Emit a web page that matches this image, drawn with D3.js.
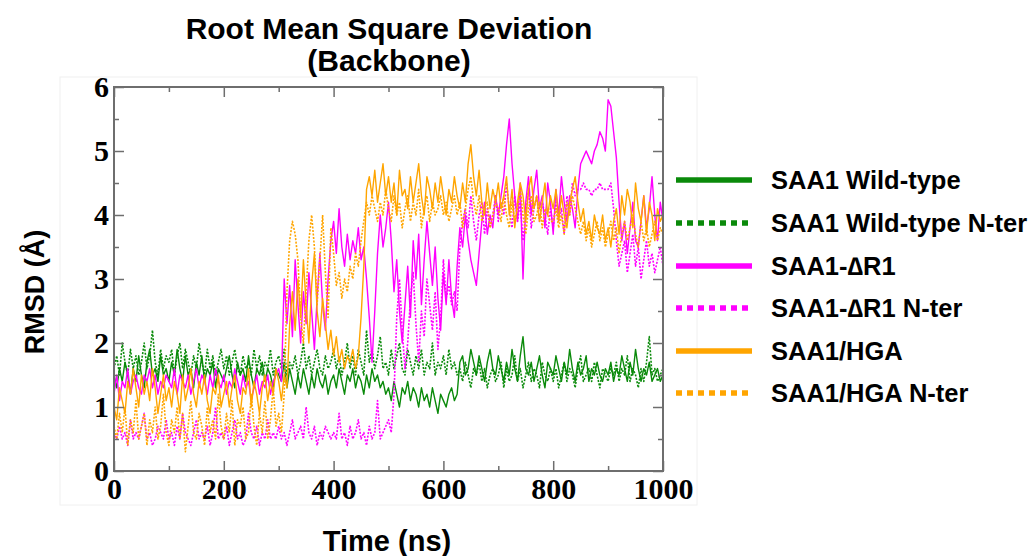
<!DOCTYPE html>
<html>
<head>
<meta charset="utf-8">
<script src="https://cdn.jsdelivr.net/npm/d3@7"></script>
<style>
  body { margin: 0; background: #fff; }
  svg { display: block; }
</style>
</head>
<body>
<div id="chart"></div>
<script>
// valeurs, un point toutes les 5 ns (0 -> 1000)
const timeStep = 5;

const wildType = [
  1.5,1.3,1.6,1.4,1.7,1.5,1.2,1.6,1.4,1.8,1.5,1.3,1.7,1.9,1.5,1.6,1.4,1.8,1.5,1.6,
  1.4,1.7,1.5,1.9,1.6,1.4,1.8,1.5,1.6,1.3,1.7,1.5,1.8,1.4,1.6,1.5,1.7,1.3,1.6,1.5,
  1.4,1.6,1.8,1.5,1.3,1.7,1.5,1.6,1.4,1.8,1.5,1.3,1.6,1.5,1.7,1.4,1.6,1.5,1.3,1.6,
  1.5,1.4,1.7,1.3,1.6,1.4,1.2,1.5,1.3,1.6,1.4,1.2,1.5,1.3,1.6,1.4,1.3,1.5,1.2,1.4,
  1.5,1.3,1.6,1.4,1.2,1.5,1.4,1.6,1.3,1.5,1.4,1.2,1.5,1.3,1.6,1.4,1.5,1.3,1.4,1.2,
  1.3,1.1,1.4,1.2,1.0,1.3,1.2,1.4,1.1,1.3,1.2,1.0,1.3,1.1,1.2,1.0,1.3,1.1,0.9,1.2,
  1.1,1.0,1.2,1.3,1.1,1.2,1.7,1.8,1.5,1.6,1.9,1.7,1.5,1.8,1.6,1.4,1.7,1.9,1.6,1.5,
  1.8,1.6,1.4,1.7,1.5,1.9,1.6,1.4,1.8,2.1,1.6,1.5,1.7,1.4,1.6,1.8,1.5,1.3,1.7,1.6,
  1.5,1.8,1.6,1.4,1.7,1.5,1.9,1.6,1.4,1.7,1.5,1.6,1.8,1.4,1.6,1.5,1.7,1.5,1.4,1.6,
  1.5,1.7,1.4,1.6,1.5,1.8,1.6,1.4,1.7,1.5,1.9,1.6,1.4,1.6,1.5,1.7,1.4,1.5,1.6,1.4,1.5
];

const wildTypeNter = [
  1.6,1.8,1.5,2.0,1.7,1.5,1.9,1.6,1.8,1.5,1.7,2.0,1.6,1.8,2.2,1.7,1.5,1.9,1.6,1.8,
  1.7,1.9,1.5,1.8,2.0,1.6,1.9,1.7,1.5,1.8,1.6,2.0,1.7,1.5,1.9,1.6,1.8,1.5,1.7,1.9,
  1.6,1.8,1.5,1.7,1.9,1.6,1.5,1.8,1.6,1.7,1.5,1.9,1.6,1.8,1.5,1.7,1.6,1.9,1.5,1.7,
  1.8,1.6,1.9,1.5,1.7,1.6,1.8,1.5,1.7,2.0,1.6,1.8,1.5,1.7,1.9,1.6,1.5,1.8,1.6,1.7,
  1.9,1.6,1.8,1.5,1.7,2.0,1.6,1.8,1.5,1.9,1.7,1.5,2.2,1.7,1.9,1.6,1.8,2.1,1.6,1.7,
  1.5,1.9,1.6,1.8,2.0,1.6,1.5,1.9,1.7,1.5,1.8,1.6,1.9,1.5,1.7,1.6,2.0,1.5,1.7,1.6,
  1.8,1.5,1.9,1.6,1.7,1.5,1.6,1.4,1.7,1.5,1.3,1.6,1.5,1.7,1.4,1.6,1.3,1.5,1.6,1.4,
  1.5,1.7,1.3,1.6,1.4,1.5,1.8,1.4,1.6,1.3,1.5,1.7,1.4,1.6,1.5,1.3,1.7,1.5,1.4,1.6,
  1.4,1.6,1.3,1.5,1.7,1.4,1.6,1.5,1.3,1.6,1.8,1.4,1.5,1.6,1.4,1.7,1.5,1.3,1.6,1.5,
  1.4,1.6,1.5,1.7,1.4,1.6,1.5,1.8,1.4,1.6,1.5,1.3,1.6,1.4,1.7,2.1,1.5,1.6,1.4,1.5,1.6
];

const deltaR1 = [
  1.2,1.5,1.1,1.4,1.3,1.6,1.2,1.4,1.5,1.3,1.2,1.5,1.4,1.6,1.3,1.5,1.2,1.4,1.3,1.5,
  1.4,1.3,1.6,1.2,1.5,1.4,1.3,1.5,1.2,1.4,1.6,1.3,1.5,1.4,1.2,1.5,1.3,1.6,1.4,1.3,
  1.5,1.2,1.4,1.3,1.6,1.4,1.2,1.5,1.3,1.4,1.1,1.3,1.5,1.2,1.4,1.3,1.5,1.2,1.4,1.5,
  1.6,1.4,3.0,2.3,2.9,2.1,3.3,2.6,2.0,2.8,2.3,3.1,2.5,1.9,2.7,3.4,2.6,2.2,3.0,3.6,
  3.9,3.4,4.1,3.5,3.2,3.7,3.3,3.6,3.4,3.8,3.3,3.5,3.0,2.4,1.7,2.5,3.4,4.0,3.5,3.8,
  4.2,3.6,2.8,3.3,2.5,2.0,2.6,3.2,2.4,3.6,3.0,3.7,2.6,3.3,3.9,3.4,2.9,3.5,2.7,2.2,
  3.1,2.6,3.3,2.7,2.4,3.2,3.8,3.5,4.0,3.6,3.3,3.1,2.9,3.4,3.9,4.2,3.7,4.0,3.8,4.3,
  4.0,4.3,4.6,5.1,5.5,4.8,4.3,3.9,4.5,3.0,4.2,4.6,4.0,4.4,4.7,4.1,4.3,3.8,4.5,4.2,
  3.7,4.4,4.0,4.6,4.2,3.9,4.3,4.1,3.8,4.4,4.8,4.9,5.0,4.9,4.8,5.0,5.1,5.3,5.2,5.0,
  5.8,5.7,5.3,4.9,4.2,3.6,3.9,3.4,3.8,4.2,3.6,3.5,3.9,4.3,3.8,4.1,4.6,4.0,3.6,4.2,3.9
];

const deltaR1Nter = [
  0.6,0.5,0.7,0.5,0.6,0.4,0.8,0.5,0.6,0.5,0.7,0.9,0.5,0.6,0.4,0.5,0.7,0.6,0.5,0.8,
  0.5,0.6,0.4,0.7,0.5,0.9,0.6,0.5,0.4,0.6,0.8,0.5,0.6,0.5,0.7,0.4,0.6,1.0,0.5,0.6,
  0.5,0.7,0.4,0.6,0.8,0.5,0.6,0.4,0.5,0.9,0.6,0.5,0.7,0.4,0.6,0.5,0.8,0.5,0.6,0.5,
  0.7,0.5,0.6,0.4,0.6,0.8,0.5,0.6,0.7,0.5,1.0,0.6,0.5,0.7,0.4,0.6,0.5,0.7,0.6,0.5,
  0.6,0.5,0.9,0.5,0.6,0.4,0.7,0.5,0.6,0.8,0.5,0.6,0.4,0.7,0.5,0.6,1.1,0.5,0.6,0.7,
  0.8,0.6,1.2,2.4,3.0,2.2,1.6,2.0,2.7,3.1,2.3,1.7,2.5,2.1,3.0,2.6,2.2,2.8,1.9,2.4,
  3.3,2.7,2.9,2.6,2.8,2.5,3.5,3.9,4.1,3.8,4.3,3.9,3.6,4.0,4.2,3.7,4.1,3.8,4.0,4.3,
  3.9,4.2,4.0,4.5,4.1,3.8,4.3,3.9,4.2,3.6,4.0,4.4,3.8,4.1,4.3,3.9,4.2,4.0,3.7,4.1,
  3.8,4.2,3.9,4.1,3.7,4.3,4.0,4.5,4.3,4.4,4.4,4.5,4.4,4.4,4.3,4.4,4.4,4.5,4.4,4.4,
  4.4,4.5,4.1,3.6,3.2,3.4,3.6,3.1,3.4,3.7,3.2,3.5,3.0,3.3,3.6,3.2,3.4,3.1,3.3,3.5,3.2
];

const hga = [
  1.0,0.8,1.3,1.1,0.9,1.4,1.2,1.6,1.3,1.0,1.5,1.2,1.4,1.1,1.6,1.3,0.9,1.2,1.5,1.1,
  1.3,1.0,1.4,1.2,0.9,1.5,1.1,1.3,1.6,1.2,1.0,1.4,1.2,1.5,1.1,0.9,1.3,1.2,1.5,1.0,
  1.2,1.4,1.0,1.3,1.5,1.1,0.9,1.3,1.2,1.6,1.0,1.4,1.2,0.9,1.3,1.5,1.1,1.4,1.2,1.6,
  1.4,1.1,1.5,1.3,2.3,2.8,2.2,3.0,2.4,3.3,2.6,2.0,2.9,3.4,2.5,2.1,2.7,2.3,1.9,2.2,
  1.8,2.1,1.7,1.9,1.6,1.8,1.7,1.9,1.6,1.8,2.4,3.2,4.4,4.6,4.3,4.7,4.2,4.5,4.8,4.3,
  4.6,4.2,4.5,4.0,4.7,4.3,4.4,4.1,4.6,4.2,4.5,4.8,4.3,4.0,4.6,4.4,4.1,4.5,4.2,4.6,
  4.3,4.0,4.4,4.2,4.6,4.3,4.1,4.5,4.2,4.8,5.1,4.6,4.3,4.7,4.2,4.0,4.5,4.1,4.4,4.2,
  4.5,4.1,4.3,4.6,4.0,4.4,3.8,4.2,4.5,4.3,3.9,4.4,4.6,4.1,4.3,3.9,4.2,4.5,4.0,4.3,
  4.1,4.4,3.9,4.3,4.0,3.8,4.2,4.4,4.6,4.2,3.9,4.1,3.7,3.9,3.6,4.0,3.8,3.7,4.0,3.6,
  3.8,3.5,3.9,4.1,3.7,4.3,4.0,4.4,4.2,3.8,4.5,4.1,3.9,4.3,3.7,4.2,4.0,3.6,4.1,3.9,4.0
];

const hgaNter = [
  0.7,0.5,0.9,0.6,1.0,0.4,0.8,0.6,1.1,0.5,0.7,0.9,0.4,0.8,0.6,1.0,0.5,0.7,1.2,0.6,
  0.4,0.8,0.6,1.0,0.5,0.9,0.3,0.7,1.1,0.6,0.5,0.9,0.7,0.4,1.0,0.6,0.8,0.5,1.2,0.7,
  0.5,0.9,0.6,1.1,0.4,0.8,0.7,1.0,0.5,0.6,1.2,0.7,0.4,0.9,0.6,1.1,0.5,0.8,1.3,0.7,
  0.9,0.6,1.2,2.8,3.6,3.9,3.7,3.3,2.4,2.0,2.8,3.6,4.0,3.5,2.6,3.3,4.0,3.1,2.4,3.8,
  3.4,2.9,3.1,2.7,3.0,2.8,3.2,3.0,3.4,3.2,3.6,3.9,4.2,4.0,4.3,4.1,3.9,4.2,4.0,4.4,
  4.1,3.9,4.3,4.0,4.2,3.8,4.1,4.3,3.9,4.2,4.0,4.4,3.8,4.1,4.3,3.9,4.2,4.0,4.1,4.3,
  4.0,4.2,3.9,4.1,4.3,4.0,4.2,3.8,4.1,4.4,4.6,4.2,4.0,4.3,3.9,4.1,4.2,3.8,4.0,4.2,
  4.1,3.9,4.3,4.0,3.8,4.2,3.9,4.1,4.4,4.0,3.7,4.1,4.3,3.9,4.0,4.2,3.8,4.1,4.0,3.9,
  3.9,4.1,3.8,4.0,3.7,4.2,4.0,4.3,4.1,3.9,3.7,3.9,3.6,3.8,3.5,3.7,3.9,3.6,3.8,3.5,
  3.7,3.9,3.6,3.8,3.4,3.7,3.9,3.6,3.8,4.0,3.7,3.5,3.9,3.6,3.8,3.5,3.7,3.9,3.6,3.8,3.7
];

const seriesNames = ["SAA1 Wild-type", "SAA1 Wild-type N-ter", "SAA1-\u2206R1", "SAA1-\u2206R1 N-ter", "SAA1/HGA", "SAA1/HGA N-ter"];
const seriesValues = [wildType, wildTypeNter, deltaR1, deltaR1Nter, hga, hgaNter];
const seriesColors = ["#0a8a0a", "#0a8a0a", "#ff00ff", "#ff00ff", "#ffa500", "#ffa500"];
const seriesDotted = [false, true, false, true, false, true];

const xTicks = [0, 200, 400, 600, 800, 1000];
const yTicks = [0, 1, 2, 3, 4, 5, 6];

// Dimensions
const W = 1034, H = 556;
const plot = { left: 114, right: 663, top: 87, bottom: 471 };

const svg = d3.select("#chart").append("svg")
    .attr("width", W)
    .attr("height", H);

// cadre très léger autour de la zone du graphique
svg.append("rect")
    .attr("x", 60).attr("y", 77)
    .attr("width", 637).attr("height", 428)
    .attr("fill", "none")
    .attr("stroke", "#f0f0f0");

const x = d3.scaleLinear().domain([0, 1000]).range([plot.left, plot.right]);
const y = d3.scaleLinear().domain([0, 6]).range([plot.bottom, plot.top]);

svg.append("clipPath").attr("id", "clip")
  .append("rect")
    .attr("x", plot.left).attr("y", plot.top)
    .attr("width", plot.right - plot.left)
    .attr("height", plot.bottom - plot.top);

// Courbes
const line = d3.line()
    .x((d, i) => x(i * timeStep))
    .y(d => y(d));

svg.append("g")
    .attr("clip-path", "url(#clip)")
  .selectAll("path")
  .data(seriesValues)
  .enter().append("path")
    .attr("d", d => line(d))
    .attr("fill", "none")
    .attr("stroke", (d, i) => seriesColors[i])
    .attr("stroke-width", (d, i) => seriesDotted[i] ? 1.6 : 1.4)
    .attr("stroke-dasharray", (d, i) => seriesDotted[i] ? "2,1.5" : null)
    .attr("stroke-linejoin", "round");

// Axes (graduations vers l'intérieur, sur les 4 côtés)
const axisColor = "#6e6e6e";
const minorX = d3.range(100, 1000, 200);
const minorY = d3.range(0.5, 6, 1);

function styleAxis(g) {
  g.select(".domain").remove();
  g.selectAll("line").attr("stroke", axisColor).attr("stroke-width", 1.5);
}

svg.append("g")
    .attr("transform", `translate(0,${plot.bottom})`)
    .call(d3.axisBottom(x).tickValues(xTicks).tickSize(-10).tickPadding(10).tickFormat(d3.format("d")))
    .call(styleAxis)
    .selectAll("text")
    .attr("dy", "0.71em")
    .attr("y", 7)
    .attr("fill", "#000")
    .style("font-family", "'Liberation Serif', 'Times New Roman', serif")
    .style("font-weight", "bold")
    .style("font-size", "30px");

svg.append("g")
    .attr("transform", `translate(0,${plot.bottom})`)
    .call(d3.axisBottom(x).tickValues(minorX).tickSize(-5).tickFormat(""))
    .call(styleAxis);

svg.append("g")
    .attr("transform", `translate(0,${plot.top})`)
    .call(d3.axisTop(x).tickValues(xTicks).tickSize(-10).tickFormat(""))
    .call(styleAxis);

svg.append("g")
    .attr("transform", `translate(0,${plot.top})`)
    .call(d3.axisTop(x).tickValues(minorX).tickSize(-5).tickFormat(""))
    .call(styleAxis);

svg.append("g")
    .attr("transform", `translate(${plot.left},0)`)
    .call(d3.axisLeft(y).tickValues(yTicks).tickSize(-10).tickPadding(6).tickFormat(d3.format("d")))
    .call(styleAxis)
    .selectAll("text")
    .attr("x", -5)
    .attr("fill", "#000")
    .style("font-family", "'Liberation Serif', 'Times New Roman', serif")
    .style("font-weight", "bold")
    .style("font-size", "30px");

svg.append("g")
    .attr("transform", `translate(${plot.left},0)`)
    .call(d3.axisLeft(y).tickValues(minorY).tickSize(-5).tickFormat(""))
    .call(styleAxis);

svg.append("g")
    .attr("transform", `translate(${plot.right},0)`)
    .call(d3.axisRight(y).tickValues(yTicks).tickSize(-10).tickFormat(""))
    .call(styleAxis);

svg.append("g")
    .attr("transform", `translate(${plot.right},0)`)
    .call(d3.axisRight(y).tickValues(minorY).tickSize(-5).tickFormat(""))
    .call(styleAxis);

// cadre
svg.append("rect")
    .attr("x", plot.left).attr("y", plot.top)
    .attr("width", plot.right - plot.left)
    .attr("height", plot.bottom - plot.top)
    .attr("fill", "none")
    .attr("stroke", axisColor)
    .attr("stroke-width", 2);

// Titres
const sans = "'Liberation Sans', Arial, sans-serif";

svg.append("text")
    .attr("x", 389).attr("y", 39)
    .attr("text-anchor", "middle")
    .style("font-family", sans).style("font-weight", "bold").style("font-size", "30px")
    .text("Root Mean Square Deviation");

svg.append("text")
    .attr("x", 389).attr("y", 71)
    .attr("text-anchor", "middle")
    .style("font-family", sans).style("font-weight", "bold").style("font-size", "30px")
    .text("(Backbone)");

svg.append("text")
    .attr("x", 387).attr("y", 551)
    .attr("text-anchor", "middle")
    .style("font-family", sans).style("font-weight", "bold").style("font-size", "29px")
    .text("Time (ns)");

svg.append("text")
    .attr("transform", "translate(44,292) rotate(-90)")
    .attr("text-anchor", "middle")
    .style("font-family", sans).style("font-weight", "bold").style("font-size", "27px")
    .text("RMSD (\u00C5)");

// Légende
const legendY = [180, 223, 266, 308, 351, 393];

const legend = svg.selectAll(".legend")
    .data(seriesNames)
    .enter().append("g")
    .attr("class", "legend")
    .attr("transform", (d, i) => `translate(0,${legendY[i]})`);

legend.append("line")
    .attr("x1", 676).attr("x2", 752)
    .attr("stroke", (d, i) => seriesColors[i])
    .attr("stroke-width", 5.5)
    .attr("stroke-dasharray", (d, i) => seriesDotted[i] ? "6,5" : null);

legend.append("text")
    .attr("x", 771)
    .attr("dy", "0.36em")
    .style("font-family", sans).style("font-weight", "bold").style("font-size", "25.5px")
    .text(d => d);
</script>
</body>
</html>
